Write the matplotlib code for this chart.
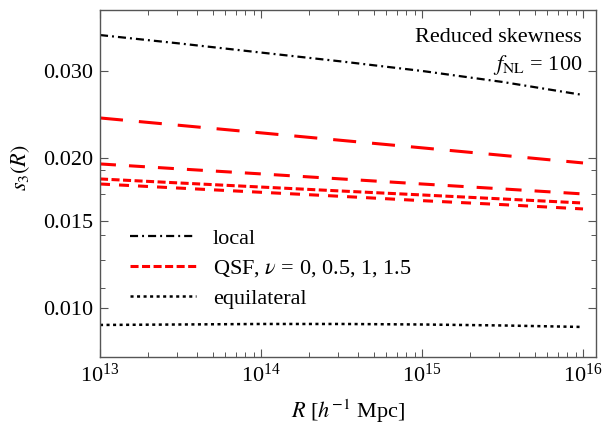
import numpy as np
import matplotlib
matplotlib.use("Agg")
import matplotlib.pyplot as plt
from matplotlib.ticker import FixedLocator, FixedFormatter, NullFormatter

plt.rcParams['font.family'] = ['Liberation Serif', 'DejaVu Serif']
plt.rcParams['mathtext.fontset'] = 'stix'
plt.rcParams['lines.scale_dashes'] = False

# data (R in h^-1 Mpc, reduced skewness)
R = [1e13, 10**13.5, 1e14, 10**14.5, 1e15, 10**15.5, 1e16]
s3_local = [0.03543, 0.03406, 0.03267, 0.03135, 0.03000, 0.02851, 0.02684]
s3_qsf_15 = [0.02413, 0.02331, 0.02252, 0.02175, 0.02101, 0.02029, 0.01959]
s3_qsf_1 = [0.01950, 0.01905, 0.01862, 0.01819, 0.01777, 0.01737, 0.01697]
s3_qsf_0 = [0.01819, 0.01785, 0.01752, 0.01720, 0.01689, 0.01658, 0.01627]
s3_qsf_05 = [0.01777, 0.01743, 0.01710, 0.01678, 0.01645, 0.01615, 0.01583]
s3_equil = [0.009248, 0.009268, 0.009290, 0.009290, 0.009268, 0.009226, 0.009162]

yticks = [0.010, 0.015, 0.020, 0.030]
yticklabels = ['0.010', '0.015', '0.020', '0.030']
yminor = [0.011, 0.0125, 0.014, 0.017, 0.019]

fig = plt.figure(figsize=(6.03, 4.28), dpi=100)
ax = fig.add_axes([100/603, 1-357/428, 496/603, 347/428])

red = '#ff0000'
ax.plot(R, s3_local, color='black', lw=1.6, dashes=(5.8, 2.9, 1.4, 2.9), label='local')
ax.plot(R, s3_qsf_0, color=red, lw=2.2, dashes=(5.8, 2.5),
        label=r'QSF, $\nu$ = 0, 0.5, 1, 1.5')
ax.plot(R, s3_qsf_05, color=red, lw=2.2, dashes=(7.2, 6.5))
ax.plot(R, s3_qsf_1, color=red, lw=2.2, dashes=(11.5, 9.4))
ax.plot(R, s3_qsf_15, color=red, lw=2.2, dashes=(16.6, 11.5))
ax.plot(R, s3_equil, color='black', lw=1.8, dashes=(2.2, 2.5), label='equilateral')

ax.set_xscale('log')
ax.set_yscale('log')
ax.set_xlim(1e13, 1.204e16)
ax.set_ylim(0.007972, 0.03979)

ax.yaxis.set_major_locator(FixedLocator(yticks))
ax.yaxis.set_major_formatter(FixedFormatter(yticklabels))
ax.yaxis.set_minor_locator(FixedLocator(yminor))
ax.yaxis.set_minor_formatter(NullFormatter())

frame = '#555555'
for sp in ax.spines.values():
    sp.set_color(frame)
    sp.set_linewidth(1.0)
ax.tick_params(which='both', direction='in', top=True, right=True,
               color=frame, labelsize=16, pad=5)
ax.tick_params(which='major', length=6, width=0.8)
ax.tick_params(which='minor', length=3.5, width=0.7)

ax.set_xlabel(r'$R$ [$h^{-1}$ Mpc]', fontsize=16)
ax.set_ylabel(r'$s_3(R)$', fontsize=16)
ax.xaxis.set_label_coords(0.5, -0.118)
ax.yaxis.set_label_coords(-0.137, 0.545)

ax.text(0.972, 0.908, 'Reduced skewness', transform=ax.transAxes,
        ha='right', va='baseline', fontsize=16)
ax.text(0.972, 0.827, r'$f_{\rm NL}$ = 100', transform=ax.transAxes,
        ha='right', va='baseline', fontsize=16)

ax.legend(loc='upper left', bbox_to_anchor=(0.0605, 0.371), frameon=False,
          fontsize=16, handlelength=2.95, handletextpad=0.77,
          labelspacing=0.42, borderpad=0, borderaxespad=0)

fig.savefig('out.png', dpi=100)
